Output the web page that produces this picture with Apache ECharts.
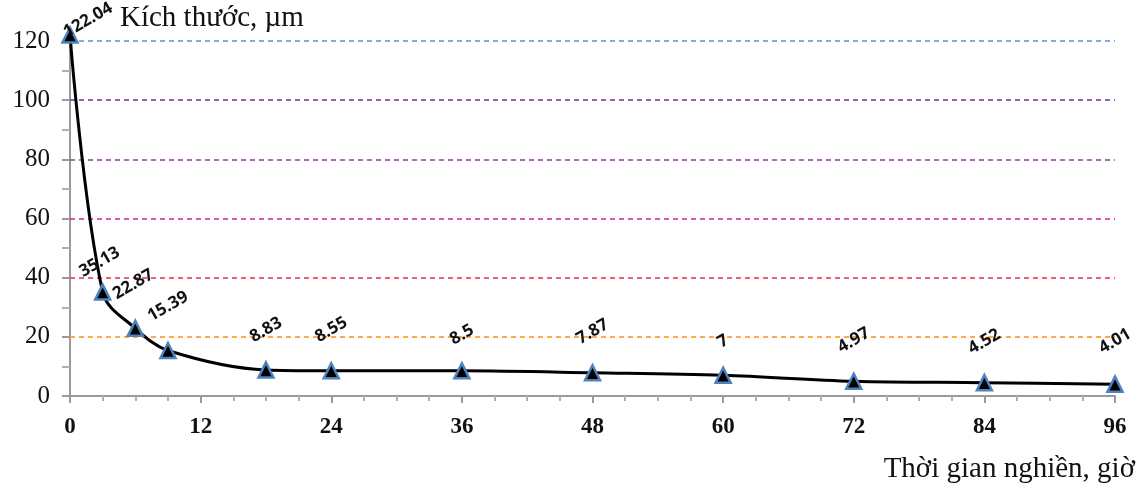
<!DOCTYPE html>
<html><head><meta charset="utf-8">
<script src="https://cdn.jsdelivr.net/npm/echarts@6/dist/echarts.min.js"></script>
<style>html,body{margin:0;padding:0;background:#fff}#c{width:1148px;height:486px}</style>
</head><body><div id="c"></div>
<script>
const hours = [0, 3, 6, 9, 18, 24, 36, 48, 60, 72, 84, 96];
const sizes = [122.04, 35.13, 22.87, 15.39, 8.83, 8.55, 8.5, 7.87, 7, 4.97, 4.52, 4.01];
const xTicks = [0, 12, 24, 36, 48, 60, 72, 84, 96];
const yTicks = [0, 20, 40, 60, 80, 100, 120];
const gridColors = ['#9a9a9a', '#FF8C1A', '#E0304A', '#CC2299', '#8E3A9E', '#7030A0', '#5B8FD0'];
const labelShift = [[18, -15], [-3, -30], [-2, -44], [0, -44], [0, -40], [0, -41], [0, -36], [0, -41], [0, -34], [0, -41], [0, -41], [0, -43]];

const ROT = 30;
const rad = ROT * Math.PI / 180, c = Math.cos(rad), s = Math.sin(rad);
function toLocal(sx, sy) { return [sx * c - sy * s, sx * s + sy * c]; }

const chart = echarts.init(document.getElementById('c'), null, {renderer: 'canvas'});
const data = hours.map((h, i) => ({
  value: [h, sizes[i]],
  label: {offset: toLocal(labelShift[i][0], labelShift[i][1])}
}));
const gridLines = yTicks.slice(1).map((v, i) => ({
  yAxis: v,
  lineStyle: {color: gridColors[i + 1], type: [5, 4], width: 1.5}
}));
chart.setOption({
  animation: false,
  title: {
    text: 'Thời gian nghiền, giờ', right: 8, top: 450,
    textStyle: {fontFamily: 'Liberation Serif', fontSize: 29, fontWeight: 'normal', color: '#111'}
  },
  grid: {left: 70, right: 33, top: 41, bottom: 90, containLabel: false},
  xAxis: {
    type: 'value', min: xTicks[0], max: xTicks[xTicks.length - 1], interval: 12,
    axisLine: {lineStyle: {color: '#9a9a9a', width: 2}},
    axisTick: {show: true, length: 7, inside: false, lineStyle: {color: '#9a9a9a', width: 2}},
    minorTick: {show: true, splitNumber: 4, length: 5, lineStyle: {color: '#b0b0b0', width: 2}},
    splitLine: {show: false},
    axisLabel: {fontFamily: 'Liberation Serif', fontWeight: 'bold', fontSize: 23, color: '#111', margin: 20}
  },
  yAxis: {
    type: 'value', min: yTicks[0], max: yTicks[yTicks.length - 1], interval: 20,
    name: 'Kích thước, µm', nameLocation: 'end', nameGap: 0,
    nameTextStyle: {fontFamily: 'Liberation Serif', fontSize: 29, color: '#111', align: 'left', verticalAlign: 'bottom', padding: [0, 0, 8, 50]},
    axisLine: {show: true, lineStyle: {color: '#9a9a9a', width: 2}},
    axisTick: {show: true, length: 8, lineStyle: {color: '#9a9a9a', width: 2}},
    minorTick: {show: true, splitNumber: 2, length: 8, lineStyle: {color: '#b0b0b0', width: 2}},
    splitLine: {show: false},
    axisLabel: {fontFamily: 'Liberation Serif', fontSize: 25, color: '#111', margin: 20}
  },
  series: [{
    type: 'line',
    data: data,
    smooth: 0.35,
    clip: false,
    symbol: 'triangle',
    symbolSize: 15,
    lineStyle: {color: '#000', width: 3},
    itemStyle: {color: '#000', borderColor: '#4F81BD', borderWidth: 2.5},
    label: {
      show: true, position: 'inside', rotate: ROT,
      align: 'center', verticalAlign: 'middle',
      fontFamily: 'Open Sans', fontWeight: 'bold', fontSize: 17, color: '#111',
      formatter: p => String(p.value[1])
    },
    markLine: {
      silent: true, symbol: 'none', label: {show: false},
      data: gridLines, z: 1
    },
    z: 3
  }]
});
</script></body></html>
